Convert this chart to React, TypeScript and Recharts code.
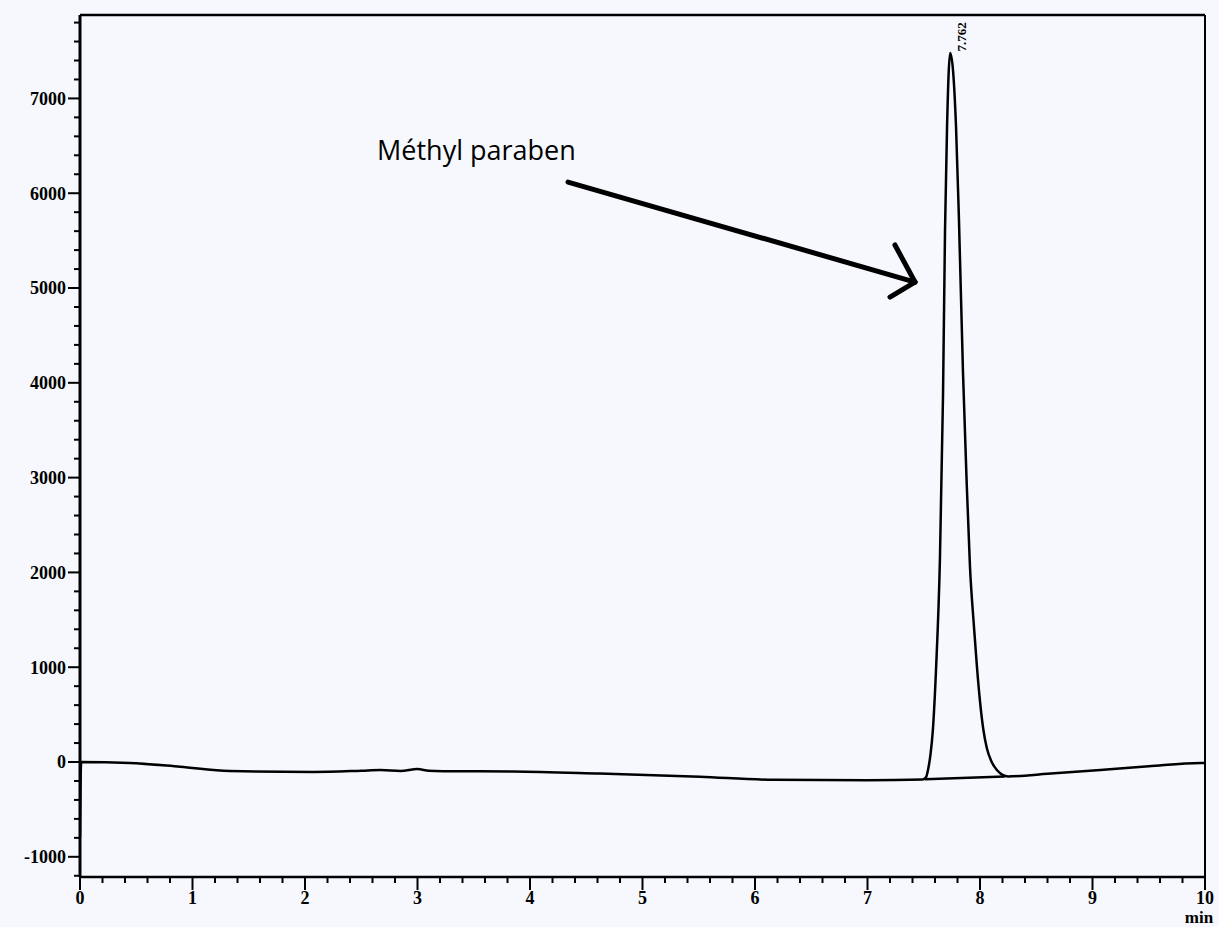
import React from 'react';
import { LineChart, Line, XAxis, YAxis, ReferenceLine, ReferenceDot } from 'recharts';

// Chromatogram trace (time in min, detector signal)
const timeMin = [
  0, 0.01, 0.44, 0.89, 1.33, 2.07, 2.5, 2.67, 2.85, 3.0, 3.1, 3.23, 3.85, 4.62, 5.51, 6.16, 7.0, 7.49,
  7.52, 7.54, 7.56, 7.58, 7.61, 7.644, 7.671, 7.689, 7.707, 7.735, 7.787, 7.813, 7.849, 7.88, 7.911,
  7.945, 7.973, 8.0, 8.03, 8.06, 8.1, 8.15, 8.2, 8.25, 8.3, 8.6, 9.07, 9.5, 9.96, 10,
];
const signal = [
  -790, 0, -10, -50, -95, -105, -92, -85, -95, -75, -92, -97, -100, -122, -155, -188, -192, -185,
  -160, -70, 80, 320, 1000, 2150, 3850, 5600, 6698, 7479, 6698, 5717, 4103, 3000, 2057,
  1450, 1002, 640, 340, 150, 10, -85, -135, -152, -150, -125, -84, -45, -10, -10,
];

// baseline drawn under the peak by the integrator
const dropTime = [7.51, 8.22];
const dropSignal = [-182, -152];

const yDomain = [-1213, 7880];
const xDomain = [0, 10];
const yTicks = Array.from({ length: 46 }, (_, i) => -1200 + i * 200);
const xTicks = Array.from({ length: 51 }, (_, i) => Math.round(i * 2) / 10);

const peakTime = 7.762;
const peakLabel = '7.762';
const compoundName = 'Méthyl paraben';

const trace = timeMin.map((t, i) => ({ t, v: signal[i] }));
const dropLine = dropTime.map((t, i) => ({ t, v: dropSignal[i] }));

const serif = '"Liberation Serif", "Times New Roman", serif';

const YTick = (props: any) => {
  const { x, y, payload } = props;
  const major = payload.value % 1000 === 0;
  return (
    <g>
      <line x1={x - (major ? 12 : 6)} x2={x} y1={y} y2={y} stroke="#000" strokeWidth={2} />
      {major && (
        <text x={x - 14} y={y} dy="0.35em" textAnchor="end" fontFamily={serif} fontWeight="bold" fontSize={18} fill="#000">
          {payload.value}
        </text>
      )}
    </g>
  );
};

const XTick = (props: any) => {
  const { x, y, payload } = props;
  const v = payload.value;
  const major = Math.abs(v - Math.round(v)) < 1e-6;
  return (
    <g>
      <line x1={x} x2={x} y1={y} y2={y + (major ? 13 : 6)} stroke="#000" strokeWidth={2} />
      {major && (
        <text x={x} y={y + 27} textAnchor="middle" fontFamily={serif} fontWeight="bold" fontSize={18} fill="#000">
          {v}
        </text>
      )}
      {v === 10 && (
        <text x={x - 6} y={y + 46} textAnchor="middle" fontFamily={serif} fontWeight="bold" fontSize={17} fill="#000">
          min
        </text>
      )}
    </g>
  );
};

export default function App() {
  return (
    <div style={{ position: 'fixed', left: 0, top: 0, width: 1219, height: 927, background: '#f6f8fd' }}>
      <LineChart width={1219} height={927} margin={{ top: 15, right: 14, bottom: 0, left: 8 }}>
        <XAxis
          type="number"
          dataKey="t"
          domain={xDomain}
          ticks={xTicks}
          interval={0}
          allowDataOverflow
          height={50}
          tickSize={0}
          tickMargin={0}
          tickLine={false}
          tick={<XTick />}
          axisLine={{ stroke: '#000', strokeWidth: 2.5 }}
        />
        <YAxis
          type="number"
          dataKey="v"
          domain={yDomain}
          ticks={yTicks}
          interval={0}
          allowDataOverflow
          width={72}
          tickSize={0}
          tickMargin={0}
          tickLine={false}
          tick={<YTick />}
          axisLine={{ stroke: '#000', strokeWidth: 3 }}
        />
        <ReferenceLine y={yDomain[1]} stroke="#000" strokeWidth={2.5} />
        <ReferenceLine x={xDomain[1]} stroke="#000" strokeWidth={2} />

        <Line data={dropLine} dataKey="v" type="linear" stroke="#000" strokeWidth={2.5} dot={false} isAnimationActive={false} />
        <Line data={trace} dataKey="v" type="monotone" stroke="#000" strokeWidth={2.5} dot={false} isAnimationActive={false} />

        {/* arrow annotation */}
        <ReferenceLine segment={[{ x: 4.338, y: 6118 }, { x: 7.422, y: 5063 }]} stroke="#000" strokeWidth={5} strokeLinecap="round" />
        <ReferenceLine segment={[{ x: 7.244, y: 5454 }, { x: 7.422, y: 5063 }]} stroke="#000" strokeWidth={5} strokeLinecap="round" />
        <ReferenceLine segment={[{ x: 7.2, y: 4905 }, { x: 7.422, y: 5063 }]} stroke="#000" strokeWidth={5} strokeLinecap="round" />

        <ReferenceDot
          x={2.64}
          y={6350}
          r={0}
          label={(p: any) => (
            <text x={p.viewBox.x} y={p.viewBox.y} textAnchor="start" fontFamily='"Open Sans", "Noto Sans", sans-serif' fontSize={27} fill="#000">
              {compoundName}
            </text>
          )}
        />
        <ReferenceDot
          x={peakTime + 0.07}
          y={7648}
          r={0}
          label={(p: any) => (
            <text
              x={p.viewBox.x}
              y={p.viewBox.y}
              transform={`rotate(-90 ${p.viewBox.x} ${p.viewBox.y})`}
              dy="0.35em"
              textAnchor="middle"
              fontFamily={serif}
              fontWeight="bold"
              fontSize={13}
              fill="#000"
            >
              {peakLabel}
            </text>
          )}
        />
      </LineChart>
    </div>
  );
}
